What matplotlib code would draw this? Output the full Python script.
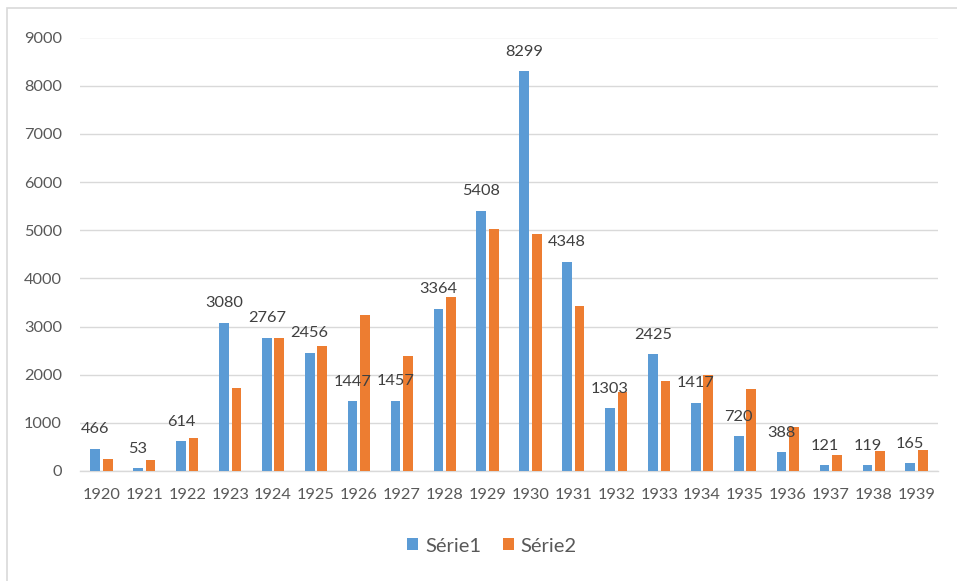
import matplotlib
matplotlib.use("Agg")
import matplotlib.pyplot as plt
import numpy as np
from matplotlib.patches import Rectangle

years = [str(y) for y in range(1920, 1940)]
serie1 = [466, 53, 614, 3080, 2767, 2456, 1447, 1457, 3364, 5408, 8299, 4348,
          1303, 2425, 1417, 720, 388, 121, 119, 165]
serie2 = [250, 232, 675, 1730, 2755, 2595, 3245, 2390, 3615, 5030, 4925, 3430,
          1630, 1860, 1985, 1710, 905, 340, 412, 445]
yticks = list(range(0, 9001, 1000))

W, H = 957, 581
fig = plt.figure(figsize=(W / 100, H / 100), dpi=100)
plt.rcParams['font.family'] = ['Lato', 'DejaVu Sans']

# outer chart border
fig.patches.append(Rectangle((7 / W, -0.01), 1.02 - 7 / W, 1 - 8 / H + 0.01,
                             transform=fig.transFigure, fill=False,
                             edgecolor='#d9d9d9', linewidth=1.2))

ax = fig.add_axes([80 / W, 110 / H, (938 - 80) / W, (543.5 - 110) / H])
x = np.arange(len(years))
bw = 0.226
off = 0.146
blue = '#5B9BD5'
orange = '#ED7D31'
b1 = ax.bar(x - off, serie1, bw, color=blue, label='Série1', zorder=3)
b2 = ax.bar(x + off, serie2, bw, color=orange, label='Série2', zorder=3)

for xi, v in zip(x, serie1):
    ax.annotate(str(v), (xi - off, v), xytext=(0, 9), textcoords='offset points',
                ha='center', va='bottom', fontsize=11.8, color='#404040', zorder=4)

ax.set_xlim(-0.5, len(years) - 0.5)
ax.set_ylim(0, 9000)
ax.set_yticks(yticks)
ax.set_yticklabels([str(t) for t in yticks])
ax.set_xticks(x)
ax.set_xticklabels(years)
ax.tick_params(axis='both', length=0, labelsize=11.8, colors='#595959')
ax.tick_params(axis='x', pad=12)
ax.tick_params(axis='y', pad=13)
ax.grid(axis='y', color='#d9d9d9', linewidth=1, zorder=0)
for s in ['left', 'right', 'top']:
    ax.spines[s].set_visible(False)
ax.spines['bottom'].set_color('#d9d9d9')
ax.spines['bottom'].set_linewidth(1)

leg = fig.legend(handles=[b1, b2], loc='center', bbox_to_anchor=(492 / W, 35 / H),
                 ncol=2, frameon=False, fontsize=14.5, handlelength=0.55,
                 handleheight=0.55, handletextpad=0.35, columnspacing=1.05,
                 labelcolor='#595959')

fig.savefig('out.png', dpi=100)
